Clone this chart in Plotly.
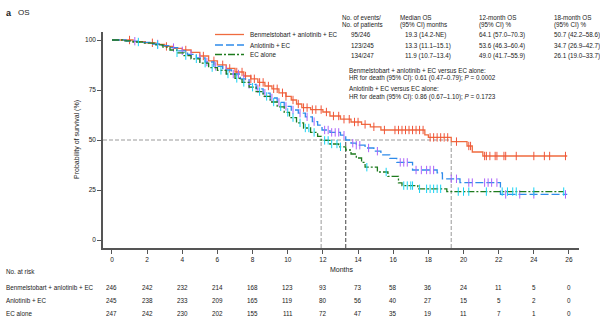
import plotly.graph_objects as go

# ---------------- data ----------------
benm_t = [0, 1.2, 1.9, 2.5, 3.0, 3.5, 4.0, 4.5, 5.0, 5.5, 6.0, 6.5, 7.0, 7.5, 7.9, 8.3, 8.7, 9.1, 9.5, 9.9,
          10.2, 10.5, 10.8, 11.3, 12.0, 12.4, 13.0, 13.6, 14.2, 14.7, 15.3, 17.8, 18.0, 19.3, 20.2, 20.5, 21.1, 25.9]
benm_s = [100, 99.2, 98.6, 97.8, 96.8, 95.8, 95.0, 93.8, 92.0, 89.6, 87.6, 85.8, 84.0, 82.0, 80.6, 78.8, 77.0, 75.6, 73.6, 71.8,
          70.0, 68.0, 66.2, 65.2, 64.0, 62.0, 60.4, 59.0, 57.8, 56.6, 55.0, 52.6, 51.3, 49.2, 47.0, 44.0, 42.0, 42.0]
benm_c = [1.0, 2.3, 3.1, 4.2, 5.2, 5.8, 6.3, 6.7, 7.1, 7.4, 7.6, 7.9, 8.1, 8.4, 8.6, 8.9, 9.2, 9.4, 9.7, 9.9, 10.3, 10.6,
          10.9, 11.1, 11.4, 11.6, 11.9, 12.2, 12.6, 12.9, 13.2, 13.5, 13.8, 14.0, 14.4, 14.9, 15.5, 16.1, 16.3, 16.5, 16.7,
          16.9, 17.1, 17.3, 17.5, 17.7, 18.1, 18.3, 18.5, 18.7, 18.9, 19.1, 19.6, 20.3, 20.4, 21.2, 21.3, 21.5, 21.8, 21.9,
          22.3, 22.4, 23.0, 24.0, 24.6, 24.9, 25.8]

anlo_t = [0, 0.8, 1.5, 2.2, 2.8, 3.3, 3.8, 4.3, 4.8, 5.3, 5.8, 6.3, 6.8, 7.3, 7.8, 8.2, 8.6, 9.0, 9.4, 9.8, 10.2, 10.6,
          11.0, 11.4, 11.7, 11.95, 12.4, 13.0, 13.3, 13.6, 13.9, 14.4, 14.9, 15.3, 15.8, 16.2, 17.1, 18.5, 18.8, 19.8, 22.1, 25.9]
anlo_s = [100, 99.4, 98.8, 98.0, 97.2, 96.2, 94.6, 92.8, 91.0, 89.0, 86.8, 85.0, 83.0, 80.6, 77.8, 75.6, 73.4, 71.0, 68.8,
          66.8, 65.0, 63.4, 61.6, 59.2, 57.4, 55.0, 53.8, 52.4, 50.0, 48.4, 47.4, 46.0, 44.4, 42.6, 40.8, 38.8, 35.0, 33.6,
          30.6, 28.7, 22.8, 22.8]
anlo_c = [1.3, 2.6, 3.5, 4.0, 4.5, 5.0, 5.4, 5.9, 6.5, 6.9, 7.2, 7.5, 7.8, 8.3, 8.7, 9.1, 9.5, 9.9, 10.3, 10.7, 11.1, 11.5,
          12.1, 12.3, 12.5, 12.7, 12.9, 13.2, 13.7, 13.9, 14.1, 14.6, 15.1, 16.4, 16.6, 16.8, 17.3, 17.6, 17.9, 18.1, 18.3,
          19.3, 19.6, 20.3, 20.5, 21.2, 21.4, 21.6, 21.9, 22.4, 23.2, 24.0, 25.8]

ec_t = [0, 0.6, 1.2, 1.8, 2.4, 2.9, 3.3, 3.7, 4.1, 4.5, 5.0, 5.5, 6.0, 6.5, 7.0, 7.4, 7.8, 8.2, 8.6, 9.0, 9.4, 9.8, 10.1,
        10.5, 10.9, 11.3, 11.7, 11.9, 12.4, 12.9, 13.3, 13.6, 13.9, 14.2, 14.4, 15.1, 15.7, 16.3, 16.5, 17.4, 19.05, 25.7]
ec_s = [100, 99.6, 99.0, 98.4, 97.6, 96.4, 95.0, 93.6, 92.2, 90.6, 88.4, 86.2, 84.8, 83.0, 80.8, 78.8, 76.4, 74.2, 71.8,
        69.0, 66.6, 63.8, 61.2, 58.6, 56.0, 53.8, 51.8, 49.8, 48.0, 46.6, 45.0, 43.0, 41.0, 38.8, 36.4, 34.0, 31.8, 28.6,
        27.2, 25.6, 24.2, 24.2]
ec_c = [1.5, 2.6, 3.7, 4.2, 4.8, 5.3, 5.7, 6.2, 6.6, 7.1, 7.5, 8.0, 8.4, 8.8, 9.2, 9.6, 10.0, 10.3, 10.7, 11.0, 11.2, 11.5,
        12.1, 12.3, 12.5, 12.8, 13.0, 14.5, 15.6, 16.6, 16.8, 17.0, 17.1, 17.5, 17.9, 18.1, 18.3, 18.5, 18.7, 19.7, 20.0,
        20.3, 21.3, 22.2, 22.5, 22.8, 23.0, 24.0, 25.7]

medians = [11.9, 13.3, 19.3]

series_names = ["Benmelstobart + anlotinib + EC", "Anlotinib + EC", "EC alone"]
events = ["95/246", "123/245", "134/247"]
median_os = ["19.3 (14.2-NE)", "13.3 (11.1\u201315.1)", "11.9 (10.7\u201313.4)"]
os12 = ["64.1 (57.0\u201370.3)", "53.6 (46.3\u201360.4)", "49.0 (41.7\u201355.9)"]
os18 = ["50.7 (42.2\u201358.6)", "34.7 (26.9\u201342.7)", "26.1 (19.0\u201333.7)"]

risk_times = [0, 2, 4, 6, 8, 10, 12, 14, 16, 18, 20, 22, 24, 26]
risk_benm = [246, 242, 232, 214, 168, 123, 93, 73, 58, 36, 24, 11, 5, 0]
risk_anlo = [245, 238, 233, 209, 165, 119, 80, 56, 40, 27, 15, 5, 2, 0]
risk_ec = [247, 242, 230, 202, 155, 111, 72, 47, 35, 19, 11, 7, 1, 0]

# ---------------- style ----------------
COL = ["#EF6B3F", "#2E8BEA", "#1E7B1E"]
DASH = ["solid", "8px,3px", "7px,2px,2px,2px"]
FONT = "Liberation Sans"
TXT = "#1a1a1a"

fig = go.Figure()


def step_val(ts, ss, t):
    v = ss[0]
    for ti, si in zip(ts, ss):
        if ti <= t:
            v = si
    return v


all_data = [(benm_t, benm_s, benm_c), (anlo_t, anlo_s, anlo_c), (ec_t, ec_s, ec_c)]
for i, (ts, ss, cs) in enumerate(all_data):
    fig.add_trace(go.Scatter(x=ts, y=ss, mode="lines", line=dict(color=COL[i], width=1.3, dash=DASH[i], shape="hv"),
                             showlegend=False, hoverinfo="skip"))
    fig.add_trace(go.Scatter(x=cs, y=[step_val(ts, ss, c) for c in cs], mode="markers",
                             marker=dict(symbol="line-ns-open", size=6, line=dict(color=COL[i], width=1)),
                             showlegend=False, hoverinfo="skip"))

XR = [-0.51, 26.57]
YR = [-4, 104]

# median reference lines
fig.add_shape(type="line", xref="x", yref="y", x0=XR[0], x1=medians[2], y0=50, y1=50,
              line=dict(color="#9a9a9a", width=1, dash="4px,2px"), layer="below")
for m, c in zip(medians, ["#9a9a9a", "#444444", "#9a9a9a"]):
    fig.add_shape(type="line", xref="x", yref="y", x0=m, x1=m, y0=YR[0], y1=50,
                  line=dict(color=c, width=1, dash="4px,2px"), layer="below")

W, H = 600, 321
ML, MR, MT, MB = 103, 21, 32, 73


def px(p):
    return (p - ML) / (W - ML - MR)


def py(p):
    return (H - MB - p) / (H - MT - MB)


annots = []


def txt(x, y, s, size=6.5, anchor="left", **kw):
    annots.append(dict(x=px(x), y=py(y), xref="paper", yref="paper", text=s, showarrow=False,
                       xanchor=anchor, yanchor="middle", font=dict(size=size, color=TXT, family=FONT), **kw))


# panel label
txt(4, 13, "<b>a</b>", size=9)
txt(16, 13, "OS", size=8)

# legend
leg_y = [34.5, 45, 54.5]
for i in range(3):
    fig.add_shape(type="line", xref="paper", yref="paper", x0=px(215), x1=px(244), y0=py(leg_y[i]), y1=py(leg_y[i]),
                  line=dict(color=COL[i], width=1.3, dash=DASH[i]))
    txt(248, leg_y[i], series_names[i], size=6.3)

# table headers
txt(340, 17, "No. of events/", size=6.3)
txt(340, 25, "No. of patients", size=6.3)
txt(398, 17, "Median OS", size=6.3)
txt(398, 25, "(95% CI) months", size=6.3)
txt(477, 17, "12-month OS", size=6.3)
txt(477, 25, "(95% CI) %", size=6.3)
txt(552, 17, "18-month OS", size=6.3)
txt(552, 25, "(95% CI) %", size=6.3)
row_y = [35, 45.5, 55.5]
for i in range(3):
    txt(349, row_y[i], events[i], size=6.3)
    txt(403, row_y[i], median_os[i], size=6.3)
    txt(477, row_y[i], os12[i], size=6.3)
    txt(552, row_y[i], os18[i], size=6.3)

txt(347, 70, "Benmelstobart + anlotinib + EC versus EC alone:", size=6.3)
txt(347, 77.5, "HR for death (95% CI): 0.61 (0.47\u20130.79); <i>P</i> = 0.0002", size=6.3)
txt(347, 89, "Anlotinib + EC versus EC alone:", size=6.3)
txt(347, 96.5, "HR for death (95% CI): 0.86 (0.67\u20131.10); <i>P</i> = 0.1723", size=6.3)

# axis titles
txt(341, 269, "Months", size=7, anchor="center")
annots.append(dict(x=px(77), y=py(140), xref="paper", yref="paper", text="Probability of survival (%)",
                   showarrow=False, textangle=-90, xanchor="center", yanchor="middle",
                   font=dict(size=7, color=TXT, family=FONT)))

# number at risk
txt(4, 271, "No. at risk", size=6.3)
risk_rows = [risk_benm, risk_anlo, risk_ec]
risk_y = [287, 300, 313]
for i in range(3):
    txt(4, risk_y[i], series_names[i], size=6.3)
    for t, n in zip(risk_times, risk_rows[i]):
        annots.append(dict(x=t, y=py(risk_y[i]), xref="x", yref="paper", text=str(n), showarrow=False,
                           xanchor="center", yanchor="middle", font=dict(size=6.3, color=TXT, family=FONT)))

fig.update_layout(
    width=W, height=H, margin=dict(l=ML, r=MR, t=MT, b=MB, pad=0),
    paper_bgcolor="white", plot_bgcolor="white",
    annotations=annots,
    font=dict(family=FONT, size=7, color=TXT),
    xaxis=dict(range=XR, tickvals=risk_times, ticks="outside", ticklen=4, tickwidth=1, tickcolor="#555",
               showline=True, linecolor="#555", linewidth=1.5, showgrid=False, zeroline=False,
               tickfont=dict(size=6.5, family=FONT, color=TXT)),
    yaxis=dict(range=YR, tickvals=[0, 25, 50, 75, 100], ticks="outside", ticklen=4, tickwidth=1, tickcolor="#555",
               showline=True, linecolor="#555", linewidth=1.5, showgrid=False, zeroline=False,
               tickfont=dict(size=6.5, family=FONT, color=TXT)),
)

fig.write_html("out.html")
